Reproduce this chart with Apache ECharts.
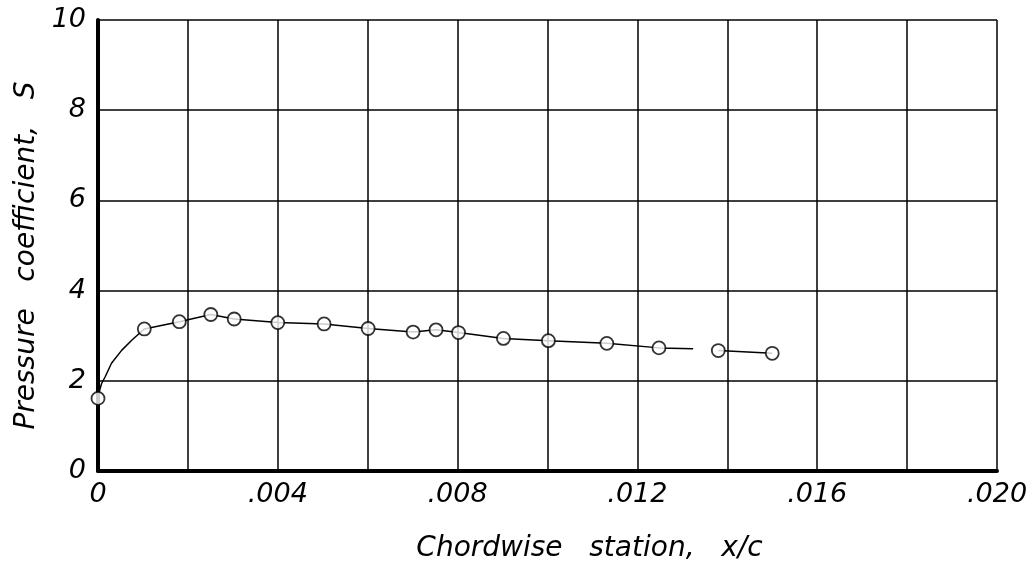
<!DOCTYPE html>
<html>
<head>
<meta charset="utf-8">
<script src="https://cdn.jsdelivr.net/npm/echarts@6/dist/echarts.min.js"></script>
<style>
html,body{margin:0;padding:0;background:#fff;}
#chart{width:1031px;height:563px;}
</style>
</head>
<body>
<div id="chart"></div>
<script>
// Measured data points (circles)
var stationX = [0, 0.00103, 0.00181, 0.00251, 0.00303, 0.0040, 0.00503, 0.00601, 0.00701, 0.00752, 0.00802, 0.00902, 0.01002, 0.01132, 0.01248, 0.0138, 0.0150];
var pressureS = [1.61, 3.15, 3.31, 3.47, 3.37, 3.29, 3.26, 3.16, 3.08, 3.13, 3.07, 2.94, 2.89, 2.83, 2.73, 2.67, 2.61];

// Faired curve (first part)
var fairX1 = [0, 0.00002, 0.00004, 0.00008, 0.00016, 0.0003, 0.00053, 0.00075, 0.00093, 0.00103, 0.00181, 0.00251, 0.00303, 0.0040, 0.00503, 0.00601, 0.00701, 0.00752, 0.00802, 0.00902, 0.01002, 0.01132, 0.01248, 0.01324];
var fairY1 = [1.61, 1.72, 1.80, 1.94, 2.09, 2.39, 2.68, 2.90, 3.06, 3.15, 3.31, 3.47, 3.37, 3.29, 3.26, 3.16, 3.08, 3.13, 3.07, 2.94, 2.89, 2.83, 2.73, 2.71];
// Faired curve (second part)
var fairX2 = [0.0138, 0.0150];
var fairY2 = [2.67, 2.61];

var xTickLabels = {"0": "0", "0.004": ".004", "0.008": ".008", "0.012": ".012", "0.016": ".016", "0.02": ".020"};
var yTickLabels = ["0", "2", "4", "6", "8", "10"];

function zip(a, b) { return a.map(function (v, i) { return [v, b[i]]; }); }

var FONT = "DejaVu Sans";
var chart = echarts.init(document.getElementById('chart'), null, {renderer: 'canvas'});
chart.setOption({
  animation: false,
  backgroundColor: '#fff',
  grid: {left: 98, right: 34, top: 20, bottom: 92, containLabel: false, outerBoundsMode: 'none'},
  xAxis: {
    type: 'value', min: 0, max: 0.02, interval: 0.002,
    name: 'Chordwise   station,   x/c',
    nameLocation: 'middle', nameGap: 64,
    nameTextStyle: {fontFamily: FONT, fontStyle: 'italic', fontSize: 28, color: '#000', padding: [0, 0, 0, 84]},
    axisLine: {show: true, onZero: false, lineStyle: {color: '#000', width: 4}},
    axisTick: {show: false},
    axisLabel: {
      fontFamily: FONT, fontStyle: 'italic', fontSize: 27, color: '#000', margin: 10,
      showMinLabel: true, showMaxLabel: true,
      formatter: function (v) {
        var k = String(Math.round(v * 1000) / 1000);
        return xTickLabels.hasOwnProperty(k) ? xTickLabels[k] : '';
      }
    },
    splitLine: {show: true, lineStyle: {color: '#000', width: 1.5}}
  },
  yAxis: {
    type: 'value', min: 0, max: 10, interval: 2,
    name: 'Pressure   coefficient,   S',
    nameLocation: 'middle', nameGap: 56, nameRotate: 90,
    nameTextStyle: {fontFamily: FONT, fontStyle: 'italic', fontSize: 28, color: '#000', padding: [0, 20, 0, 0]},
    axisLine: {show: true, onZero: false, lineStyle: {color: '#000', width: 4}},
    axisTick: {show: false},
    axisLabel: {
      fontFamily: FONT, fontStyle: 'italic', fontSize: 27, color: '#000', margin: 12,
      formatter: function (v) { return yTickLabels[Math.round(v / 2)]; }
    },
    splitLine: {show: true, lineStyle: {color: '#000', width: 1.5}}
  },
  series: [
    {type: 'line', data: zip(fairX1, fairY1), showSymbol: false, smooth: false,
     lineStyle: {color: '#000', width: 1.5, join: 'round'}, z: 3},
    {type: 'line', data: zip(fairX2, fairY2), showSymbol: false,
     lineStyle: {color: '#000', width: 1.5}, z: 3},
    {type: 'scatter', data: zip(stationX, pressureS), symbol: 'circle', symbolSize: 13,
     itemStyle: {color: '#fff', borderColor: '#000', borderWidth: 1.8}, z: 5}
  ]
});
</script>
</body>
</html>
